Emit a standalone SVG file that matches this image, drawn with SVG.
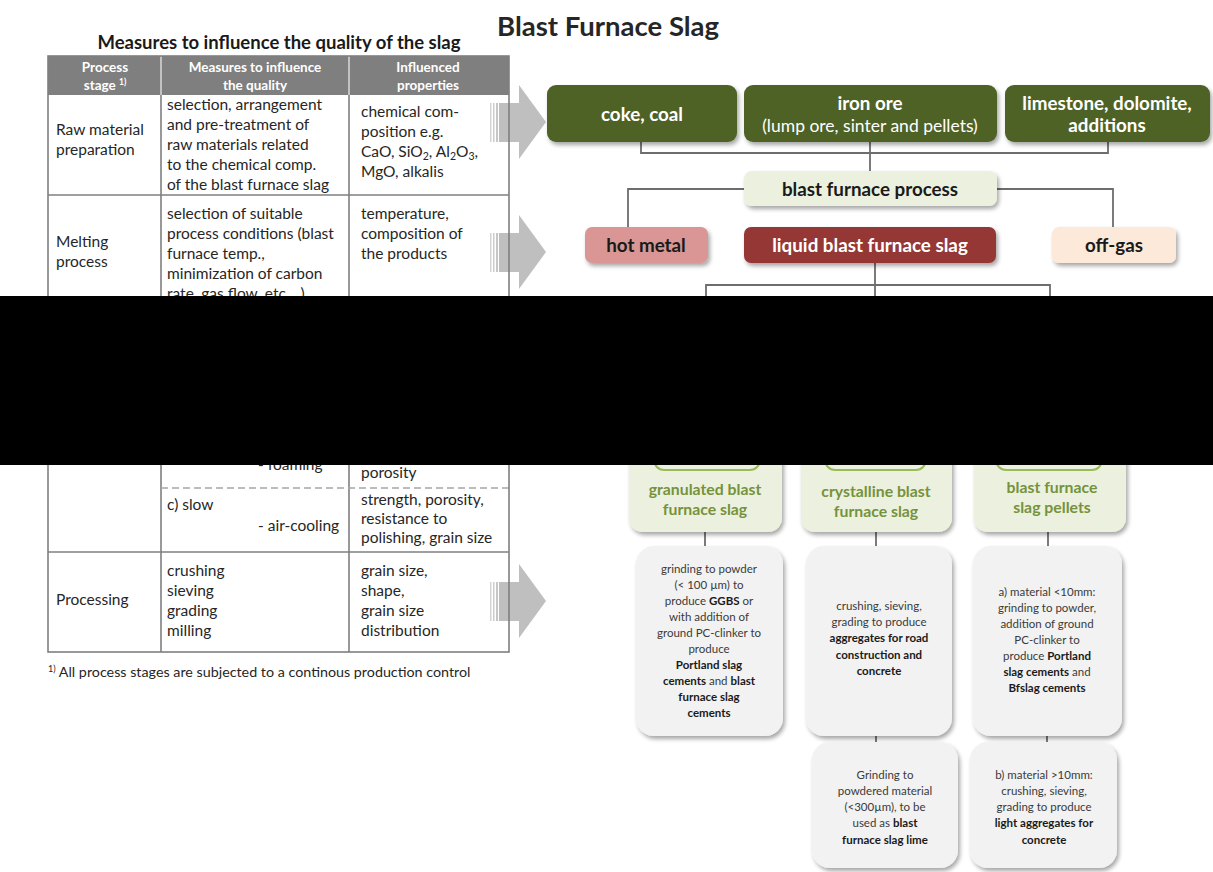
<svg xmlns="http://www.w3.org/2000/svg" width="1213" height="872" viewBox="0 0 1213 872">
  <defs>
    <filter id="shadow" x="-10%" y="-10%" width="125%" height="135%">
      <feDropShadow dx="2" dy="3" stdDeviation="2" flood-color="#000" flood-opacity="0.35"/>
    </filter>
    <!-- striped block arrow pointing right, origin at its vertical centre -->
    <g id="blockArrow">
      <rect x="490" y="-19" width="1.5" height="39" fill="#d4d4d4"/>
      <rect x="493" y="-19" width="1.5" height="39" fill="#cccccc"/>
      <rect x="496" y="-19" width="2" height="39" fill="#c6c6c6"/>
      <polygon points="499,-19 519,-19 519,-37 546,0 519,37 519,20 499,20" fill="#bfbfbf"/>
    </g>
  </defs>
  <style>
    text { font-family: Lato, "Open Sans", sans-serif; }
    .title { font-size: 27.5px; font-weight: bold; fill: #262626; }
    .subtitle { font-size: 18.5px; font-weight: bold; fill: #1a1a1a; }
    .th { font-size: 13.5px; font-weight: bold; fill: #ffffff; text-anchor: middle; }
    .td { font-size: 15.5px; fill: #262626; }
    .sub { font-size: 10.5px; }
    .foot { font-size: 14.3px; fill: #262626; }
    .grid { stroke: #7f7f7f; stroke-width: 1.6; fill: none; }
    .hgrid { stroke: #d9d9d9; stroke-width: 1.5; }
    .dash { stroke: #a6a6a6; stroke-width: 1.5; stroke-dasharray: 7 4; }
    .wire { stroke: #6d6d6d; stroke-width: 1.8; fill: none; }
    .nodeText { font-size: 18.8px; font-weight: bold; text-anchor: middle; }
    .light { fill: #ffffff; }
    .dark { fill: #1a1a1a; }
    .green { font-size: 15.8px; font-weight: bold; fill: #76923c; text-anchor: middle; }
    .note { font-size: 11.5px; fill: #3a3a3a; text-anchor: middle; }
    .note .b { font-weight: bold; fill: #1a1a1a; }
  </style>

  <rect width="1213" height="872" fill="#ffffff"/>

  <!-- headings -->
  <text class="title" x="497" y="36">Blast Furnace Slag</text>
  <text class="subtitle" x="279" y="49" text-anchor="middle">Measures to influence the quality of the slag</text>

  <!-- arrows from table rows to the flow chart -->
  <g id="arrows">
    <use href="#blockArrow" transform="translate(0,122)"/>
    <use href="#blockArrow" transform="translate(0,252)"/>
    <use href="#blockArrow" transform="translate(0,601)"/>
  </g>

  <!-- quality measures table -->
  <g id="table">
    <rect x="48" y="56" width="461" height="39" fill="#7f7f7f"/>
    <line class="hgrid" x1="161" y1="56" x2="161" y2="95"/>
    <line class="hgrid" x1="349" y1="56" x2="349" y2="95"/>
    <line class="grid" x1="48" y1="195" x2="509" y2="195"/>
    <line class="grid" x1="48" y1="552" x2="509" y2="552"/>
    <line class="grid" x1="161" y1="95" x2="161" y2="652"/>
    <line class="grid" x1="349" y1="95" x2="349" y2="652"/>
    <line class="dash" x1="161" y1="488" x2="509" y2="488"/>
    <rect class="grid" x="48" y="56" width="461" height="596"/>

    <text class="th" x="105" y="72">Process</text>
    <text class="th" x="105" y="90">stage <tspan font-size="8.5" dy="-5">1)</tspan></text>
    <text class="th" x="255" y="72">Measures to influence</text>
    <text class="th" x="255" y="90">the quality</text>
    <text class="th" x="428" y="72">Influenced</text>
    <text class="th" x="428" y="90">properties</text>

    <!-- raw material preparation -->
    <text class="td" x="56" y="135">Raw material</text>
    <text class="td" x="56" y="155">preparation</text>
    <text class="td" x="167" y="110">selection, arrangement</text>
    <text class="td" x="167" y="130">and pre-treatment of</text>
    <text class="td" x="167" y="150">raw materials related</text>
    <text class="td" x="167" y="170">to the chemical comp.</text>
    <text class="td" x="167" y="190">of the blast furnace slag</text>
    <text class="td" x="361" y="117">chemical com-</text>
    <text class="td" x="361" y="137">position e.g.</text>
    <text class="td" x="361" y="157">CaO, SiO<tspan class="sub" dy="3">2</tspan><tspan dy="-3">, Al</tspan><tspan class="sub" dy="3">2</tspan><tspan dy="-3">O</tspan><tspan class="sub" dy="3">3</tspan><tspan dy="-3">,</tspan></text>
    <text class="td" x="361" y="177">MgO, alkalis</text>

    <!-- melting process -->
    <text class="td" x="56" y="247">Melting</text>
    <text class="td" x="56" y="267">process</text>
    <text class="td" x="167" y="219">selection of suitable</text>
    <text class="td" x="167" y="239">process conditions (blast</text>
    <text class="td" x="167" y="259">furnace temp.,</text>
    <text class="td" x="167" y="279">minimization of carbon</text>
    <text class="td" x="167" y="299">rate, gas flow, etc....)</text>
    <text class="td" x="361" y="219">temperature,</text>
    <text class="td" x="361" y="239">composition of</text>
    <text class="td" x="361" y="259">the products</text>

    <!-- cooling -->
    <text class="td" x="258" y="470">- foaming</text>
    <text class="td" x="361" y="478">porosity</text>
    <text class="td" x="167" y="510">c) slow</text>
    <text class="td" x="258" y="531">- air-cooling</text>
    <text class="td" x="361" y="505">strength, porosity,</text>
    <text class="td" x="361" y="524">resistance to</text>
    <text class="td" x="361" y="543">polishing, grain size</text>

    <!-- processing -->
    <text class="td" x="56" y="605">Processing</text>
    <text class="td" x="167" y="576">crushing</text>
    <text class="td" x="167" y="596">sieving</text>
    <text class="td" x="167" y="616">grading</text>
    <text class="td" x="167" y="636">milling</text>
    <text class="td" x="361" y="576">grain size,</text>
    <text class="td" x="361" y="596">shape,</text>
    <text class="td" x="361" y="616">grain size</text>
    <text class="td" x="361" y="636">distribution</text>
  </g>

  <text class="foot" x="48" y="677"><tspan font-size="9" dy="-5">1)</tspan><tspan dy="5"> All process stages are subjected to a continous production control</tspan></text>

  <!-- connectors -->
  <g id="connectors">
    <path class="wire" d="M641,142 V153 H1108 V142 M870,142 V171"/>
    <path class="wire" d="M744,189 H628 V227 M997,189 H1113 V227"/>
    <path class="wire" d="M875,263 V296 M706,298 V285 H1050 V298"/>
    <path class="wire" d="M705,532 V546 M876,532 V546 M1048,532 V546"/>
    <path class="wire" d="M876,736 V742 M1047,736 V742"/>
  </g>

  <!-- raw materials -->
  <g id="coke-coal">
    <rect x="547" y="85" width="190" height="57" rx="9" fill="#4f6228" filter="url(#shadow)"/>
    <text class="nodeText light" x="642" y="120.5">coke, coal</text>
  </g>
  <g id="iron-ore">
    <rect x="744" y="85" width="253" height="57" rx="9" fill="#4f6228" filter="url(#shadow)"/>
    <text class="nodeText light" x="870" y="109.5">iron ore</text>
    <text class="light" x="870" y="132" font-size="17.5" text-anchor="middle">(lump ore, sinter and pellets)</text>
  </g>
  <g id="limestone">
    <rect x="1005" y="85" width="205" height="57" rx="9" fill="#4f6228" filter="url(#shadow)"/>
    <text class="nodeText light" x="1107" y="109.5">limestone, dolomite,</text>
    <text class="nodeText light" x="1107" y="132">additions</text>
  </g>

  <g id="blast-furnace-process">
    <rect x="744" y="171" width="253" height="35" rx="8" fill="#ebf1de" filter="url(#shadow)"/>
    <text class="nodeText dark" x="870" y="195.5" font-size="18">blast furnace process</text>
  </g>

  <!-- products -->
  <g id="hot-metal">
    <rect x="585" y="227" width="123" height="36" rx="7" fill="#d99694" filter="url(#shadow)"/>
    <text class="nodeText dark" x="646" y="251.5">hot metal</text>
  </g>
  <g id="liquid-slag">
    <rect x="744" y="227" width="252" height="36" rx="7" fill="#953735" filter="url(#shadow)"/>
    <text class="nodeText light" x="870" y="251.5" font-size="18.2">liquid blast furnace slag</text>
  </g>
  <g id="off-gas">
    <rect x="1052" y="227" width="124" height="36" rx="7" fill="#fde9d9" filter="url(#shadow)"/>
    <text class="nodeText dark" x="1114" y="251.5">off-gas</text>
  </g>

  <!-- slag types -->
  <g id="granulated-slag">
    <rect x="629" y="400" width="153" height="132" rx="14" fill="#ebf1de" filter="url(#shadow)"/>
    <rect x="654" y="390" width="106" height="80" rx="10" fill="#ebf1de" stroke="#9bbb59" stroke-width="2"/>
    <text class="green" x="705" y="494.5">granulated blast</text>
    <text class="green" x="705" y="514.5">furnace slag</text>
  </g>
  <g id="crystalline-slag">
    <rect x="801" y="400" width="151" height="132" rx="14" fill="#ebf1de" filter="url(#shadow)"/>
    <rect x="825" y="390" width="101" height="80" rx="10" fill="#ebf1de" stroke="#9bbb59" stroke-width="2"/>
    <text class="green" x="876" y="496.5">crystalline blast</text>
    <text class="green" x="876" y="516.5">furnace slag</text>
  </g>
  <g id="slag-pellets">
    <rect x="974" y="400" width="152" height="132" rx="14" fill="#ebf1de" filter="url(#shadow)"/>
    <rect x="996" y="390" width="106" height="80" rx="10" fill="#ebf1de" stroke="#9bbb59" stroke-width="2"/>
    <text class="green" x="1052" y="492.5">blast furnace</text>
    <text class="green" x="1052" y="512.5">slag pellets</text>
  </g>

  <!-- uses -->
  <g id="use-ggbs">
    <rect x="636" y="546" width="147" height="190" rx="18" fill="#f2f2f2" filter="url(#shadow)"/>
    <text class="note" x="709" y="573">grinding to powder</text>
    <text class="note" x="709" y="589">(&lt; 100 µm) to</text>
    <text class="note" x="709" y="605">produce <tspan class="b">GGBS</tspan> or</text>
    <text class="note" x="709" y="621">with addition of</text>
    <text class="note" x="709" y="637">ground PC-clinker to</text>
    <text class="note" x="709" y="653">produce</text>
    <text class="note" x="709" y="669"><tspan class="b">Portland slag</tspan></text>
    <text class="note" x="709" y="685"><tspan class="b">cements</tspan> and <tspan class="b">blast</tspan></text>
    <text class="note" x="709" y="701"><tspan class="b">furnace slag</tspan></text>
    <text class="note" x="709" y="717"><tspan class="b">cements</tspan></text>
  </g>
  <g id="use-aggregates">
    <rect x="806" y="546" width="146" height="190" rx="18" fill="#f2f2f2" filter="url(#shadow)"/>
    <text class="note" x="879" y="610">crushing, sieving,</text>
    <text class="note" x="879" y="626">grading to produce</text>
    <text class="note" x="879" y="642"><tspan class="b">aggregates for road</tspan></text>
    <text class="note" x="879" y="659"><tspan class="b">construction and</tspan></text>
    <text class="note" x="879" y="675"><tspan class="b">concrete</tspan></text>
  </g>
  <g id="use-cements">
    <rect x="973" y="546" width="149" height="190" rx="18" fill="#f2f2f2" filter="url(#shadow)"/>
    <text class="note" x="1047" y="596">a) material &lt;10mm:</text>
    <text class="note" x="1047" y="612">grinding to powder,</text>
    <text class="note" x="1047" y="628">addition of ground</text>
    <text class="note" x="1047" y="644">PC-clinker to</text>
    <text class="note" x="1047" y="660">produce <tspan class="b">Portland</tspan></text>
    <text class="note" x="1047" y="676"><tspan class="b">slag cements</tspan> and</text>
    <text class="note" x="1047" y="692"><tspan class="b">Bfslag cements</tspan></text>
  </g>
  <g id="use-lime">
    <rect x="812" y="742" width="146" height="126" rx="18" fill="#f2f2f2" filter="url(#shadow)"/>
    <text class="note" x="885" y="779">Grinding to</text>
    <text class="note" x="885" y="795">powdered material</text>
    <text class="note" x="885" y="811">(&lt;300µm), to be</text>
    <text class="note" x="885" y="827">used as <tspan class="b">blast</tspan></text>
    <text class="note" x="885" y="844"><tspan class="b">furnace slag lime</tspan></text>
  </g>
  <g id="use-light-aggregates">
    <rect x="970" y="742" width="147" height="126" rx="18" fill="#f2f2f2" filter="url(#shadow)"/>
    <text class="note" x="1044" y="779">b) material &gt;10mm:</text>
    <text class="note" x="1044" y="795">crushing, sieving,</text>
    <text class="note" x="1044" y="811">grading to produce</text>
    <text class="note" x="1044" y="827"><tspan class="b">light aggregates for</tspan></text>
    <text class="note" x="1044" y="844"><tspan class="b">concrete</tspan></text>
  </g>

  <!-- black band across the middle -->
  <rect x="0" y="296" width="1213" height="169" fill="#000000"/>
</svg>
